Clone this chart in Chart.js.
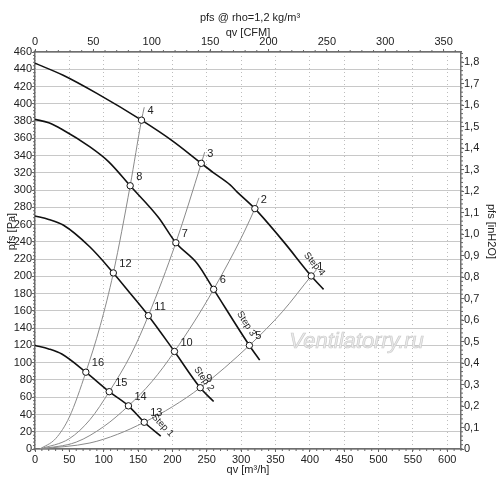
<!DOCTYPE html>
<html>
<head>
<meta charset="utf-8">
<script src="https://cdn.jsdelivr.net/npm/chart.js@4.4.1/dist/chart.umd.min.js"></script>
<style>
  body { margin: 0; background: #fff; }
  canvas { display: block; }
</style>
</head>
<body>
<canvas id="fanChart" width="500" height="487"></canvas>
<script>
// unit conversions for the secondary axes
var M3H_PER_CFM = 1.699;
var PA_PER_INH2O = 249.089;
var Q_MAX = 620;
var P_MAX = 460;

// fan curves (qv m3/h, pfs Pa)
var stepNames = ['Step 1', 'Step 2', 'Step 3', 'Step 4'];
var step1Q = [0, 20, 39, 74, 108, 136, 159, 183];
var step1P = [120, 116, 110, 89, 66.4, 50, 31, 15];
var step2Q = [0, 20, 41, 80, 114, 140, 165, 203, 240.5, 260];
var step2P = [270, 266, 259.5, 234, 204, 179, 154.5, 113, 71, 55];
var step3Q = [0, 20, 39, 80, 107, 138.5, 180, 205, 236, 260, 312, 327];
var step3P = [382, 378, 370.5, 350, 333, 305, 268, 239, 215, 185, 120, 103];
var step4Q = [0, 41, 90, 155, 200, 242, 260, 284, 294, 320, 362, 402, 420];
var step4P = [447, 433, 412, 381, 357, 331, 320, 306, 298, 278.5, 240, 200.5, 185];

// system curves
var sysAQ = [7, 30, 50, 74, 95, 114, 138.5, 155, 159];
var sysAP = [0, 12, 37, 89, 143, 204, 305, 381, 396];
var sysBQ = [7, 50, 80, 108, 140, 165, 205, 242, 247];
var sysBP = [0, 12, 34, 66.4, 110, 154.5, 239, 331, 344];
var sysCQ = [7, 60, 100, 136, 170, 203, 260, 320, 326];
var sysCP = [0, 8, 26, 50, 78, 113, 185, 278.5, 291];
var sysDQ = [7, 80, 120, 159, 200, 240.5, 312, 360, 402, 410];
var sysDP = [0, 7, 17, 31, 49, 71, 120, 159, 200.5, 208];

// numbered operating points
var pointNo = [1, 2, 3, 4, 5, 6, 7, 8, 9, 10, 11, 12, 13, 14, 15, 16];
var pointQ = [402, 320, 242, 155, 312, 260, 205, 138.5, 240.5, 203, 165, 114, 159, 136, 108, 74];
var pointP = [200.5, 278.5, 331, 381, 120, 185, 239, 305, 71, 113, 154.5, 204, 31, 50, 66.4, 89];

function xy(qs, ps) {
  return qs.map(function (q, i) { return { x: q, y: ps[i] }; });
}

function fanSet(qs, ps) {
  return {
    data: xy(qs, ps), showLine: true, borderColor: '#111', borderWidth: 1.6,
    pointRadius: 0, tension: 0.3, cubicInterpolationMode: 'monotone', order: 1
  };
}

function sysSet(qs, ps) {
  return {
    data: xy(qs, ps), showLine: true, borderColor: '#8a8a8a', borderWidth: 1,
    pointRadius: 0, tension: 0.3, cubicInterpolationMode: 'monotone', order: 2
  };
}

// where the "Step n" text sits: along the segment between two numbered points
var stepLabelPos = [
  { from: 14, to: 13, along: 15, perp: 11 },
  { from: 10, to: 9, along: -5, perp: 8 },
  { from: 6, to: 5, along: -20, perp: 9 },
  { from: 2, to: 1, along: -7, perp: 10 }
];

var labelsPlugin = {
  id: 'labels',
  beforeDatasetsDraw: function (chart) {
    var ctx = chart.ctx, sx = chart.scales.x, sy = chart.scales.y;
    ctx.save();
    ctx.font = 'italic 22px "Liberation Sans", Arial';
    ctx.textAlign = 'center';
    ctx.textBaseline = 'middle';
    ctx.fillStyle = '#ebebeb';
    ctx.strokeStyle = '#cdcdcd';
    ctx.lineWidth = 0.7;
    var wx = sx.getPixelForValue(468), wy = sy.getPixelForValue(124);
    ctx.fillText('Ventilatorry.ru', wx, wy);
    ctx.strokeText('Ventilatorry.ru', wx, wy);
    ctx.restore();
  },
  afterDatasetsDraw: function (chart) {
    var ctx = chart.ctx, sx = chart.scales.x, sy = chart.scales.y;
    ctx.save();
    ctx.fillStyle = '#222';
    ctx.font = '11px "Liberation Sans", Arial';
    ctx.textAlign = 'left';
    ctx.textBaseline = 'middle';
    var meta = chart.getDatasetMeta(chart.data.datasets.length - 1);
    meta.data.forEach(function (el, i) {
      ctx.fillText(String(pointNo[i]), el.x + 6, el.y - 9);
    });
    ctx.font = '9.5px "Liberation Sans", Arial';
    ctx.textAlign = 'center';
    stepLabelPos.forEach(function (s, k) {
      var a = pointNo.indexOf(s.from), b = pointNo.indexOf(s.to);
      var x1 = sx.getPixelForValue(pointQ[a]), y1 = sy.getPixelForValue(pointP[a]);
      var x2 = sx.getPixelForValue(pointQ[b]), y2 = sy.getPixelForValue(pointP[b]);
      var ang = Math.atan2(y2 - y1, x2 - x1);
      var dx = Math.cos(ang), dy = Math.sin(ang);
      var tx = x2 + dx * s.along + dy * s.perp;
      var ty = y2 + dy * s.along - dx * s.perp;
      ctx.save();
      ctx.translate(tx, ty);
      ctx.rotate(ang);
      ctx.fillText(stepNames[k], 0, 0);
      ctx.restore();
    });
    ctx.restore();
  },
  afterDraw: function (chart) {
    var ctx = chart.ctx, a = chart.chartArea, s = chart.scales;
    ctx.save();
    // vertical axis titles sit a bit above the middle of the plot
    var midY = (a.top + a.bottom) / 2 - 19;
    ctx.fillStyle = '#222';
    ctx.font = '11px "Liberation Sans", Arial';
    ctx.textAlign = 'center';
    ctx.textBaseline = 'middle';
    ctx.save();
    ctx.translate(11.7, midY);
    ctx.rotate(-Math.PI / 2);
    ctx.fillText('pfs [Pa]', 0, 0);
    ctx.restore();
    ctx.save();
    ctx.translate(chart.width - 9, midY);
    ctx.rotate(Math.PI / 2);
    ctx.fillText('pfs [inH2O]', 0, 0);
    ctx.restore();

    // minor tick marks on all four axes
    ctx.strokeStyle = '#666';
    ctx.lineWidth = 1;
    ctx.beginPath();
    function run(scale, step, fn) {
      var n = Math.floor(scale.max / step + 1e-9);
      for (var i = 0; i <= n; i++) fn(scale.getPixelForValue(i * step));
    }
    run(s.x, 10, function (p) { ctx.moveTo(p, a.bottom); ctx.lineTo(p, a.bottom + 2); });
    run(s.x2, 10, function (p) { ctx.moveTo(p, a.top); ctx.lineTo(p, a.top - 2); });
    run(s.y, 4, function (p) { ctx.moveTo(a.left, p); ctx.lineTo(a.left - 2, p); });
    run(s.y2, 0.02, function (p) { ctx.moveTo(a.right, p); ctx.lineTo(a.right + 2, p); });
    ctx.stroke();
    ctx.restore();
  }
};

Chart.defaults.font.family = '"Liberation Sans", Arial, sans-serif';
Chart.defaults.font.size = 11;
Chart.defaults.color = '#222';

var tickFont = { size: 11 };
var axisBorder = { color: '#6f6f6f', width: 1.5 };

new Chart(document.getElementById('fanChart'), {
  type: 'scatter',
  data: {
    datasets: [
      fanSet(step1Q, step1P), fanSet(step2Q, step2P), fanSet(step3Q, step3P), fanSet(step4Q, step4P),
      sysSet(sysAQ, sysAP), sysSet(sysBQ, sysBP), sysSet(sysCQ, sysCP), sysSet(sysDQ, sysDP),
      {
        data: xy(pointQ, pointP), showLine: false, pointRadius: 3.2, pointBorderWidth: 1,
        pointBackgroundColor: '#fff', pointBorderColor: '#111', order: 0
      }
    ]
  },
  options: {
    responsive: false,
    animation: false,
    layout: { padding: 0 },
    plugins: {
      legend: { display: false },
      tooltip: { enabled: false },
      title: {
        display: true, text: 'pfs @ rho=1,2 kg/m³', color: '#222',
        font: { size: 11, weight: 'normal' }, padding: { top: 11.7, bottom: 1.8 }
      }
    },
    scales: {
      x: {
        type: 'linear', position: 'bottom', min: 0, max: Q_MAX,
        ticks: { stepSize: 50, includeBounds: false, padding: 1, font: tickFont, maxRotation: 0 },
        grid: { color: '#bdbdbd', tickColor: '#666', tickLength: 3 },
        border: Object.assign({ dash: [1, 3] }, axisBorder),
        title: { display: true, text: 'qv [m³/h]', padding: { top: 0, bottom: 10.5 } },
        afterFit: function (sc) { sc.height = 38; }
      },
      x2: {
        type: 'linear', position: 'top', min: 0, max: Q_MAX / M3H_PER_CFM,
        ticks: { stepSize: 50, includeBounds: false, padding: 0, font: tickFont, maxRotation: 0 },
        grid: { drawOnChartArea: false, tickColor: '#666', tickLength: 3 },
        border: axisBorder,
        title: { display: true, text: 'qv [CFM]', padding: { top: 0, bottom: 0 } },
        afterFit: function (sc) { sc.height = 25.3; }
      },
      y: {
        type: 'linear', position: 'left', min: 0, max: P_MAX,
        ticks: { stepSize: 20, includeBounds: false, padding: 0, font: tickFont },
        grid: { color: '#c8c8c8', tickColor: '#666', tickLength: 3 },
        border: axisBorder,
        afterFit: function (sc) { sc.width = 35; }
      },
      y2: {
        type: 'linear', position: 'right', min: 0, max: P_MAX / PA_PER_INH2O,
        ticks: {
          stepSize: 0.1, includeBounds: false, padding: 0, font: tickFont,
          callback: function (v) { return v === 0 ? '0' : v.toFixed(1).replace('.', ','); }
        },
        grid: { drawOnChartArea: false, tickColor: '#666', tickLength: 3 },
        border: axisBorder,
        afterFit: function (sc) { sc.width = 39; }
      }
    }
  },
  plugins: [labelsPlugin]
});
</script>
</body>
</html>
